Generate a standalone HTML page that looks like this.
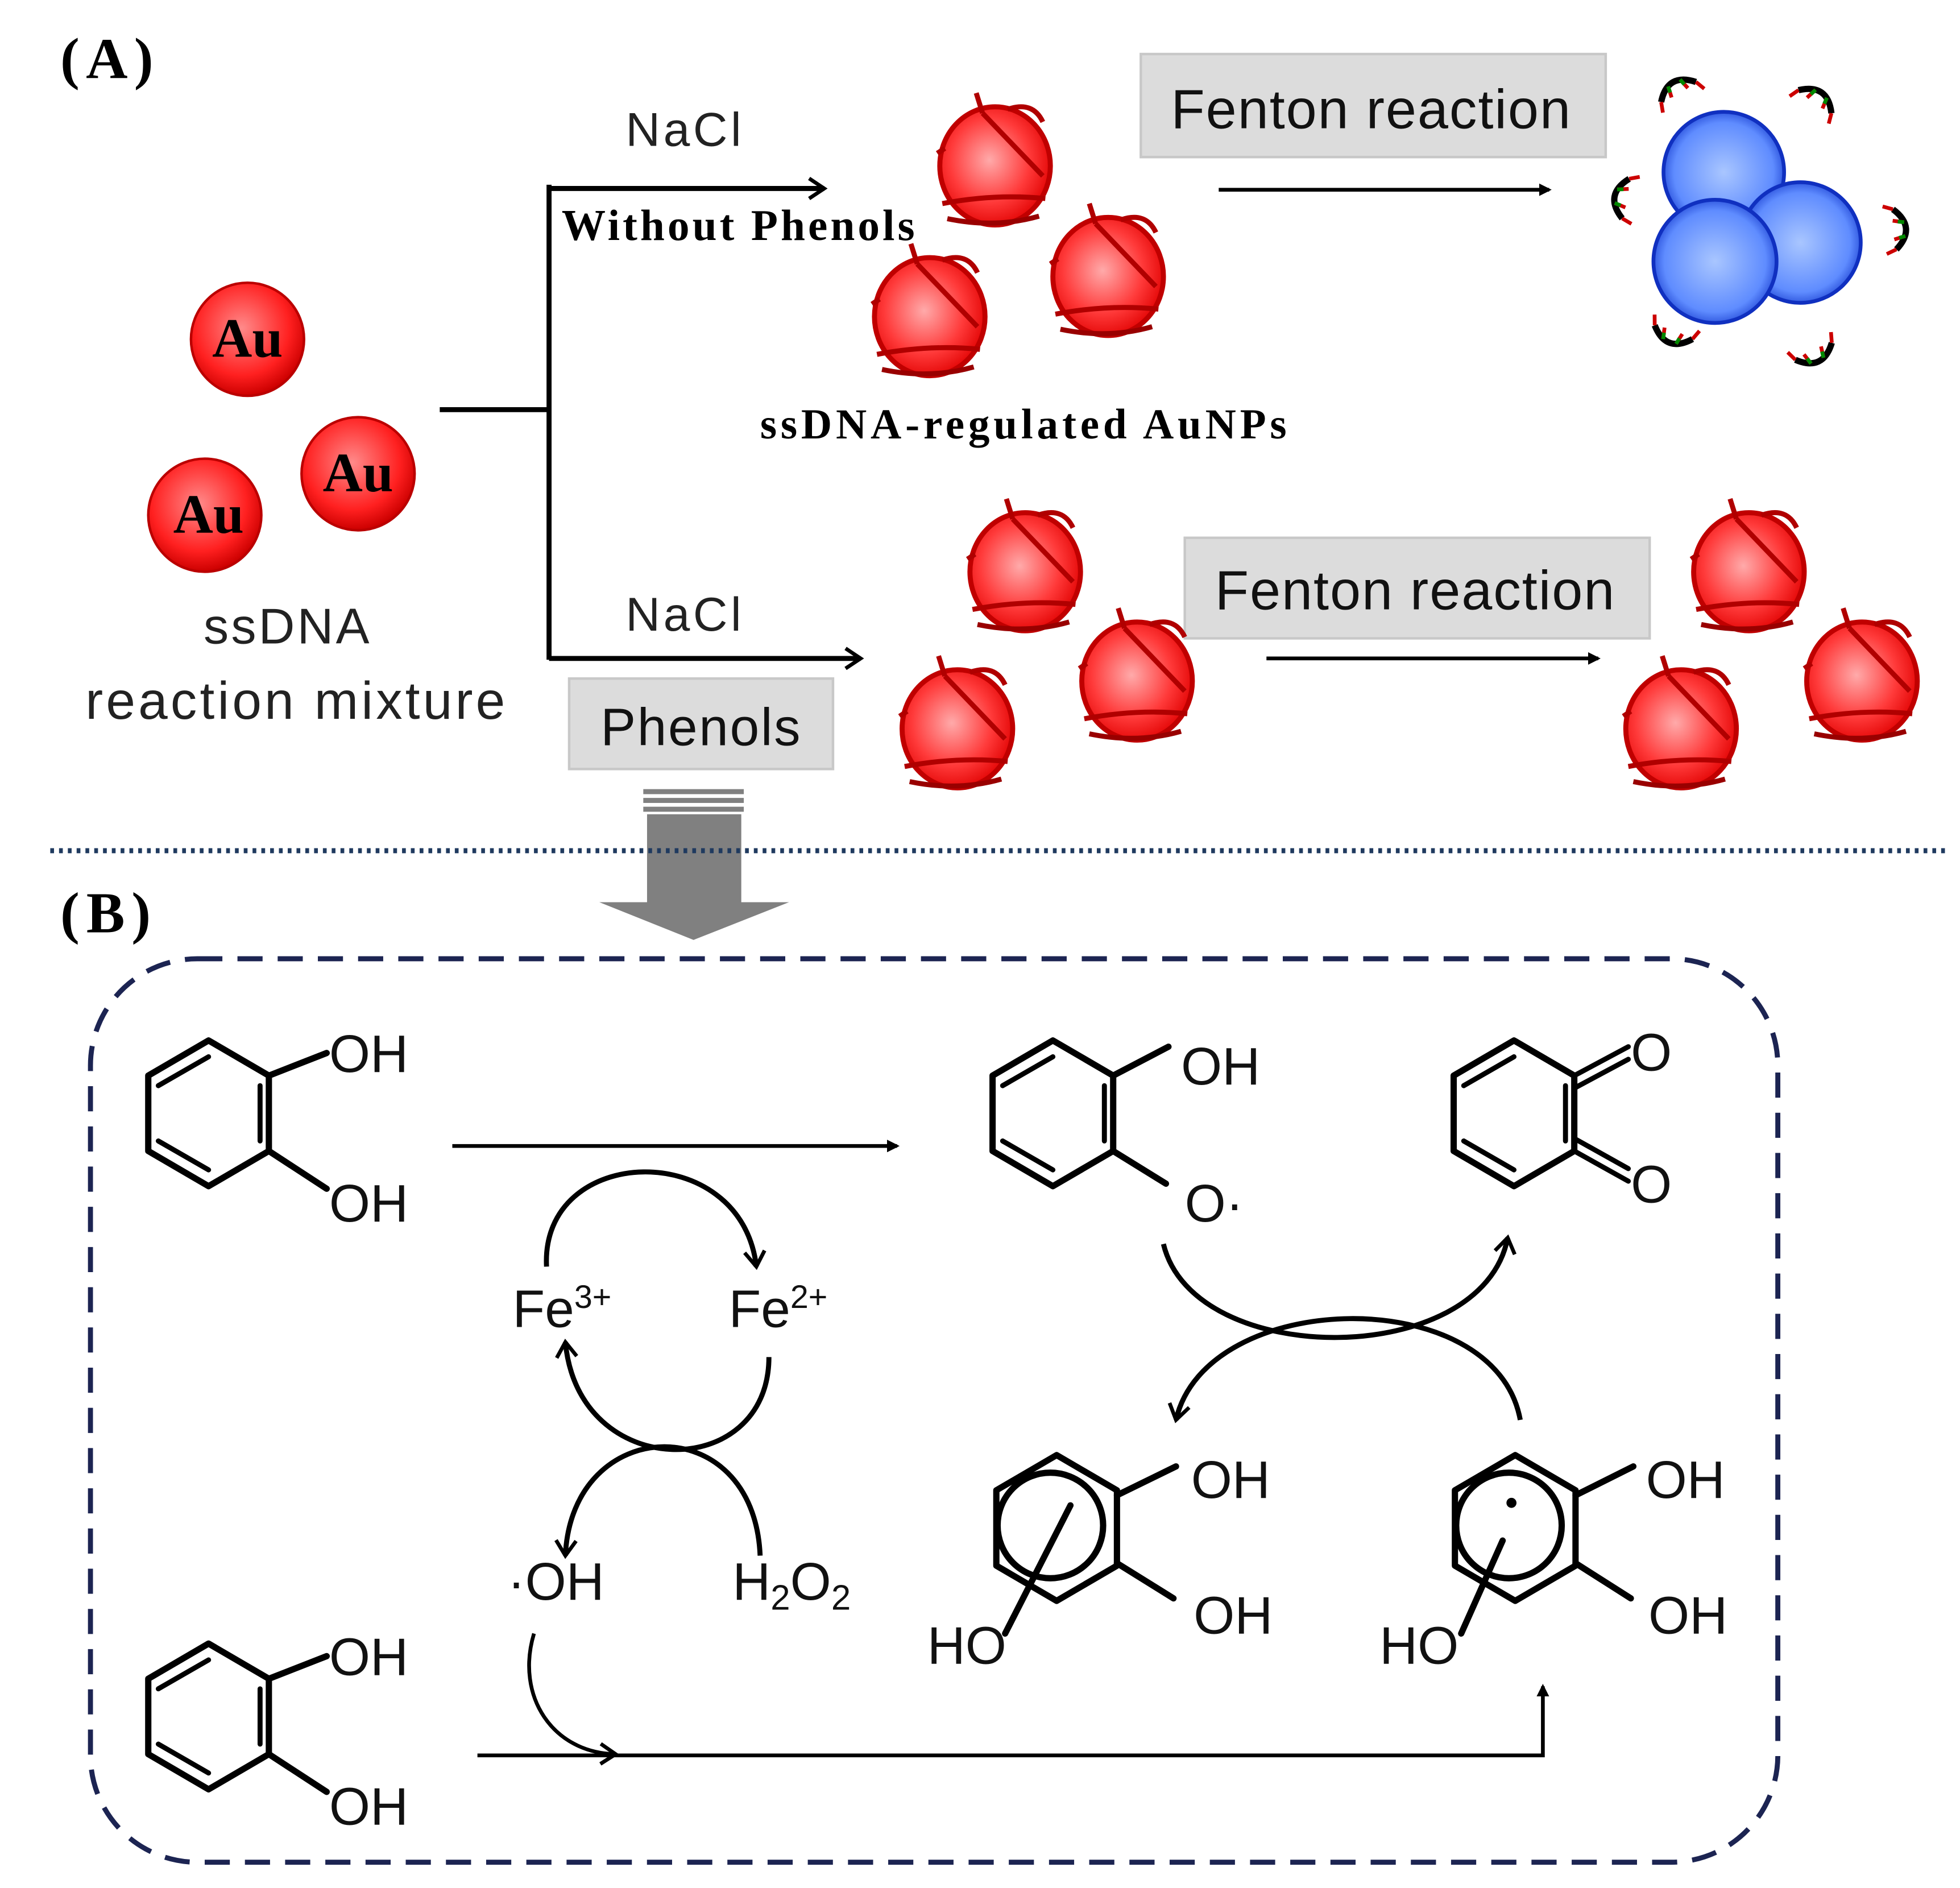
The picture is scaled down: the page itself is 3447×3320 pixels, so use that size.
<!DOCTYPE html>
<html><head><meta charset="utf-8"><style>
html,body{margin:0;padding:0;background:#fff;}
svg{display:block;}
.sans{font-family:"Liberation Sans","DejaVu Sans",sans-serif;}
.serif{font-family:"Liberation Serif",serif;font-weight:bold;}
</style></head><body>
<svg width="3447" height="3320" viewBox="0 0 1560 1502.5" xmlns="http://www.w3.org/2000/svg">
<defs>
<radialGradient id="rg" cx="0.45" cy="0.45" r="0.6">
<stop offset="0" stop-color="#ffaaaa"/><stop offset="0.6" stop-color="#ff3a3a"/><stop offset="1" stop-color="#e00000"/>
</radialGradient>
<radialGradient id="au" cx="0.45" cy="0.4" r="0.6">
<stop offset="0" stop-color="#ff8a8a"/><stop offset="0.7" stop-color="#ff2020"/><stop offset="1" stop-color="#cc0000"/>
</radialGradient>
<radialGradient id="bg" cx="0.5" cy="0.5" r="0.55">
<stop offset="0" stop-color="#a9c6ff"/><stop offset="0.75" stop-color="#5f8cff"/><stop offset="1" stop-color="#1a3fd0"/>
</radialGradient>
<g id="rp">
<ellipse cx="0" cy="0" rx="44" ry="47" fill="url(#rg)" stroke="#c00000" stroke-width="4"/>
<path d="M-10,-42 L38,8 M-42,30 Q0,22 40,26 M-15,-58 L-10,-42 M-46,-10 L-40,-14 M10,-45 Q30,-52 38,-35" fill="none" stroke="#b00000" stroke-width="4"/>
<path d="M-38,42 Q0,50 35,40" fill="none" stroke="#900" stroke-width="4"/>
</g>
<g id="dna">
<path d="M-16,-6 Q0,12 16,-6" fill="none" stroke="#000" stroke-width="5"/>
<path d="M-16,-6 l-3,-8 M-6,2 l-2,-9 M5,2 l2,-9 M16,-6 l3,-8" stroke="#c00" stroke-width="3"/>
<path d="M-6,2 l-1,-5 M5,2 l1,-5" stroke="#080" stroke-width="3"/>
</g>
<g id="hex" fill="none" stroke="#000" stroke-width="5" stroke-linejoin="round">
<path d="M0,-58 L48,-30 L48,30 L0,58 L-48,30 L-48,-30 Z"/>
</g>
<marker id="ah" markerWidth="10" markerHeight="10" refX="8" refY="5" orient="auto" markerUnits="userSpaceOnUse">
<path d="M0,0 L10,5 L0,10 Z" fill="#000"/></marker>
<marker id="oh" markerWidth="20" markerHeight="20" refX="14" refY="10" orient="auto" markerUnits="userSpaceOnUse">
<path d="M2,2 L14,10 L2,18" fill="none" stroke="#000" stroke-width="3"/></marker>
</defs>

<!-- Part A -->
<text x="48" y="62" class="serif" font-size="46" textLength="74">(A)</text>
<g>
<circle cx="197" cy="270" r="45" fill="url(#au)" stroke="#b00" stroke-width="2"/>
<circle cx="285" cy="377" r="45" fill="url(#au)" stroke="#b00" stroke-width="2"/>
<circle cx="163" cy="410" r="45" fill="url(#au)" stroke="#b00" stroke-width="2"/>
<text x="197" y="284" text-anchor="middle" class="serif" font-size="44">Au</text>
<text x="285" y="391" text-anchor="middle" class="serif" font-size="44">Au</text>
<text x="166" y="424" text-anchor="middle" class="serif" font-size="44">Au</text>
</g>
<text x="162" y="512" class="sans" font-size="40" fill="#222" textLength="132">ssDNA</text>
<text x="68" y="572" class="sans" font-size="42" fill="#222" textLength="334">reaction mixture</text>

<g stroke="#000" stroke-width="4" fill="none">
<line x1="350" y1="326" x2="437" y2="326"/>
<line x1="437" y1="147" x2="437" y2="525"/>
<line x1="437" y1="150" x2="656" y2="150" marker-end="url(#oh)"/>
<line x1="437" y1="524" x2="685" y2="524" marker-end="url(#oh)"/>
<line x1="970" y1="151" x2="1233" y2="151" stroke-width="3" marker-end="url(#ah)"/>
<line x1="1008" y1="524" x2="1272" y2="524" stroke-width="3" marker-end="url(#ah)"/>
</g>
<text x="498" y="116" class="sans" font-size="38" fill="#222" textLength="92">NaCl</text>
<text x="447" y="191" class="serif" font-size="35" textLength="281">Without Phenols</text>
<text x="498" y="502" class="sans" font-size="38" fill="#222" textLength="92">NaCl</text>
<text x="605" y="349" class="serif" font-size="34" textLength="419">ssDNA-regulated AuNPs</text>

<rect x="908" y="43" width="370" height="82" fill="#dcdcdc" stroke="#c8c8c8" stroke-width="2"/>
<text x="932" y="102" class="sans" font-size="44" fill="#111" textLength="318">Fenton reaction</text>
<rect x="943" y="428" width="370" height="80" fill="#dcdcdc" stroke="#c8c8c8" stroke-width="2"/>
<text x="967" y="485" class="sans" font-size="44" fill="#111" textLength="318">Fenton reaction</text>
<rect x="453" y="540" width="210" height="72" fill="#dcdcdc" stroke="#c8c8c8" stroke-width="2"/>
<text x="478" y="593" class="sans" font-size="42" fill="#111" textLength="159">Phenols</text>

<use href="#rp" x="792" y="132"/>
<use href="#rp" x="882" y="220"/>
<use href="#rp" x="740" y="252"/>
<use href="#rp" x="816" y="455"/>
<use href="#rp" x="905" y="542"/>
<use href="#rp" x="762" y="580"/>
<use href="#rp" x="1392" y="455"/>
<use href="#rp" x="1482" y="542"/>
<use href="#rp" x="1338" y="580"/>

<circle cx="1372" cy="137" r="48" fill="url(#bg)" stroke="#1030c0" stroke-width="3"/>
<circle cx="1433" cy="193" r="48" fill="url(#bg)" stroke="#1030c0" stroke-width="3"/>
<circle cx="1365" cy="208" r="49" fill="url(#bg)" stroke="#1030c0" stroke-width="3"/>
<use href="#dna" transform="translate(1333,68) rotate(150)"/>
<use href="#dna" transform="translate(1448,76) rotate(215)"/>
<use href="#dna" transform="translate(1288,157) rotate(100)"/>
<use href="#dna" transform="translate(1514,182) rotate(265)"/>
<use href="#dna" transform="translate(1330,270) rotate(20)"/>
<use href="#dna" transform="translate(1446,285) rotate(-25)"/>

<!-- gray arrow -->
<g fill="#808080">
<rect x="512" y="628" width="80" height="4"/>
<rect x="512" y="635" width="80" height="4"/>
<rect x="512" y="642" width="80" height="4"/>
<rect x="515" y="648" width="75" height="72"/>
<path d="M477,718 L628,718 L552,748 Z"/>
</g>
<line x1="40" y1="677" x2="1552" y2="677" stroke="#1f3a5f" stroke-width="4" stroke-dasharray="3,4"/>

<!-- Part B -->
<text x="48" y="742" class="serif" font-size="46" textLength="72">(B)</text>
<rect x="72" y="763" width="1343" height="719" rx="85" ry="85" fill="none" stroke="#1c2452" stroke-width="4" stroke-dasharray="20,12"/>

<g stroke="#000" stroke-width="5" fill="none" stroke-linecap="round">
<use href="#hex" x="166" y="886"/>
<path d="M126,864 L166,841 M207,864 L207,908 M126,908 L166,931" stroke-width="4"/>
<path d="M214,856 L260,838 M214,916 L260,946"/>
<use href="#hex" x="166" y="1366"/>
<path d="M126,1344 L166,1321 M207,1344 L207,1388 M126,1388 L166,1411" stroke-width="4"/>
<path d="M214,1336 L260,1318 M214,1396 L260,1426"/>
<use href="#hex" x="838" y="886"/>
<path d="M798,864 L838,841 M879,864 L879,908 M798,908 L838,931" stroke-width="4"/>
<path d="M886,856 L930,833 M886,916 L928,942"/>
<use href="#hex" x="1205" y="886"/>
<path d="M1165,864 L1205,841 M1246,864 L1246,908 M1165,908 L1205,931" stroke-width="4"/>
<path d="M1253,856 L1296,833 M1253,866 L1296,843 M1253,916 L1296,940 M1253,906 L1296,930" stroke-width="4"/>
<use href="#hex" x="841" y="1216"/>
<circle cx="836" cy="1214" r="42"/>
<path d="M889,1190 L936,1167 M889,1244 L934,1272 M852,1198 L800,1300"/>
<use href="#hex" x="1206" y="1216"/>
<circle cx="1201" cy="1214" r="42"/>
<path d="M1254,1190 L1300,1167 M1254,1244 L1298,1272 M1196,1226 L1163,1300"/>
</g>
<circle cx="1203" cy="1196" r="4" fill="#000"/>

<g class="sans" font-size="42" fill="#111">
<text x="262" y="853" textLength="63">OH</text>
<text x="262" y="972" textLength="63">OH</text>
<text x="262" y="1333" textLength="63">OH</text>
<text x="262" y="1452" textLength="63">OH</text>
<text x="940" y="863" textLength="63">OH</text>
<text x="943" y="972">O·</text>
<text x="1298" y="852">O</text>
<text x="1298" y="957">O</text>
<text x="948" y="1192" textLength="63">OH</text>
<text x="950" y="1300" textLength="63">OH</text>
<text x="738" y="1324" textLength="63">HO</text>
<text x="1310" y="1192" textLength="63">OH</text>
<text x="1312" y="1300" textLength="63">OH</text>
<text x="1098" y="1324" textLength="63">HO</text>
<text x="408" y="1056">Fe<tspan font-size="26" dy="-15">3+</tspan></text>
<text x="580" y="1056">Fe<tspan font-size="26" dy="-15">2+</tspan></text>
<text x="404" y="1273">·OH</text>
<text x="583" y="1273">H<tspan font-size="28" dy="8">2</tspan><tspan dy="-8">O</tspan><tspan font-size="28" dy="8">2</tspan></text>
</g>

<g stroke="#000" stroke-width="4" fill="none">
<line x1="360" y1="912" x2="714" y2="912" stroke-width="3" marker-end="url(#ah)"/>
<path d="M435,1008 C430,910 590,905 602,1008" marker-end="url(#oh)"/>
<path d="M612,1080 C612,1180 460,1180 450,1068" marker-end="url(#oh)"/>
<path d="M605,1238 C600,1120 455,1125 450,1238" marker-end="url(#oh)"/>
<path d="M425,1300 C410,1350 440,1395 490,1396" stroke-width="3" marker-end="url(#oh)"/>
<path d="M380,1397 L1228,1397 L1228,1342" stroke-width="3" marker-end="url(#ah)"/>
<path d="M926,990 C950,1090 1180,1090 1200,985" marker-end="url(#oh)"/>
<path d="M1210,1130 C1190,1020 960,1025 936,1130" marker-end="url(#oh)"/>
</g>
</svg>
</body></html>
